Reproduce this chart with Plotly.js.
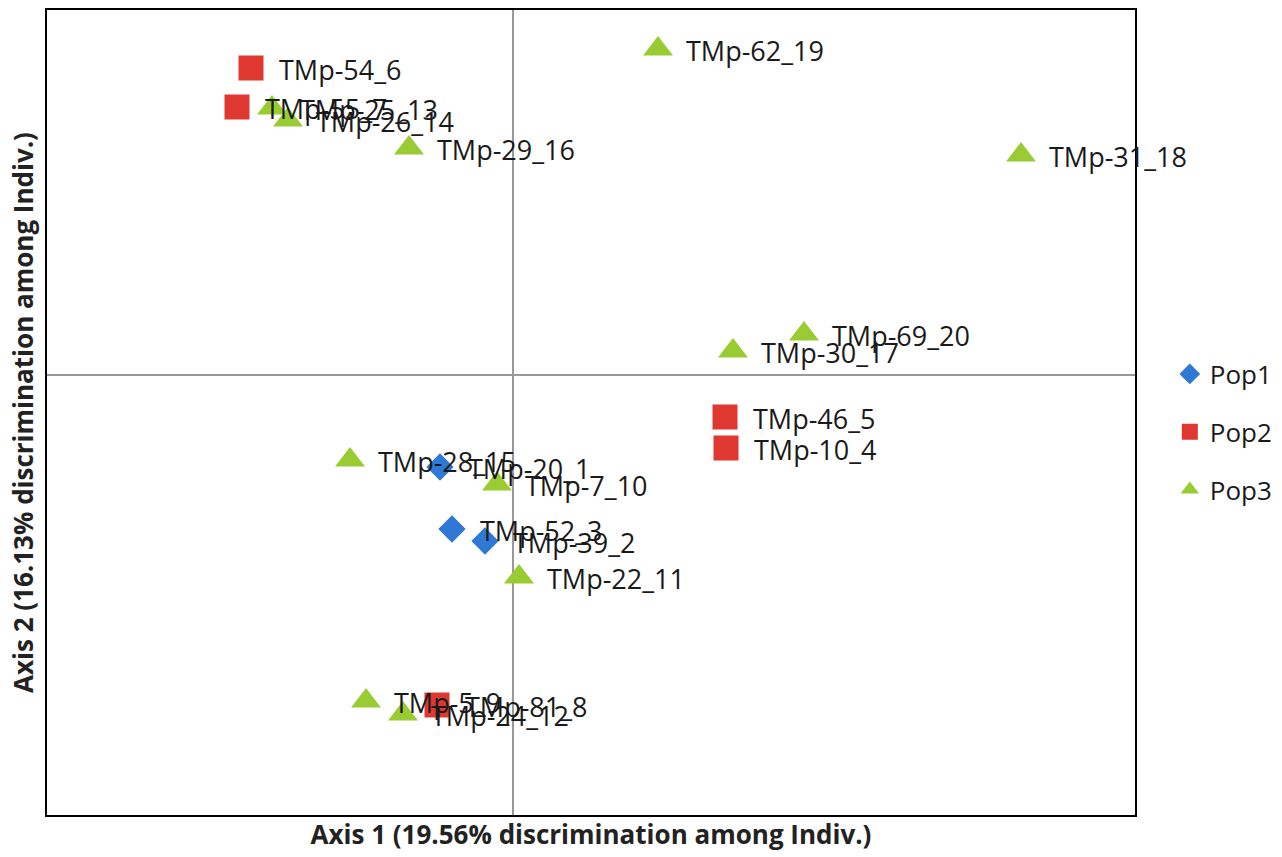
<!DOCTYPE html>
<html>
<head>
<meta charset="utf-8">
<script src="https://cdn.plot.ly/plotly-3.0.1.min.js"></script>
<style>body{margin:0;background:#fff}#chart{width:1282px;height:857px}</style>
</head>
<body>
<div id="chart"></div>
<script>
// Pop1
const pop1Labels = ["TMp-20_1", "TMp-39_2", "TMp-52_3"];
const pop1X = [-0.73, -0.28, -0.61];
const pop1Y = [-0.92, -1.66, -1.54];
// Pop2
const pop2Labels = ["TMp-10_4", "TMp-46_5", "TMp-54_6", "TMp-55_7", "TMp-81_8"];
const pop2X = [2.13, 2.12, -2.62, -2.76, -0.76];
const pop2Y = [-0.73, -0.42, 3.07, 2.68, -3.30];
// Pop3
const pop3Labels = ["TMp-5_9", "TMp-7_10", "TMp-22_11", "TMp-24_12", "TMp-25_13", "TMp-26_14", "TMp-28_15", "TMp-29_16", "TMp-30_17", "TMp-31_18", "TMp-62_19", "TMp-69_20"];
const pop3X = [-1.47, -0.16, 0.06, -1.10, -2.41, -2.25, -1.63, -1.04, 2.20, 5.08, 1.45, 2.91];
const pop3Y = [-3.26, -1.09, -2.02, -3.39, 2.67, 2.55, -0.85, 2.27, 0.24, 2.20, 3.26, 0.41];

const groups = [
  {name: "Pop1", x: pop1X, y: pop1Y, t: pop1Labels, sym: "diamond", size: 21, color: "#2f78d6"},
  {name: "Pop2", x: pop2X, y: pop2Y, t: pop2Labels, sym: "square", size: 25, color: "#de3831"},
  {name: "Pop3", x: pop3X, y: pop3Y, t: pop3Labels, sym: "triangle-up", size: 26, color: "#99cc33"}
];

const traces = groups.map((g, i) => ({
  type: "scatter", mode: "markers", name: g.name, x: g.x, y: g.y,
  legendgroup: "g" + i,
  marker: {symbol: g.sym, size: g.size, color: g.color, line: {width: 0}},
  hoverinfo: "text", text: g.t
}));

const annotations = [];
groups.forEach(g => {
  g.t.forEach((lab, k) => {
    annotations.push({
      x: g.x[k], y: g.y[k], xref: "x", yref: "y", text: lab, showarrow: false,
      xanchor: "left", yanchor: "middle", xshift: 26, yshift: -1,
      font: {family: "'Open Sans', sans-serif", size: 27, color: "#1a1a1a"}
    });
  });
});

const layout = {
  width: 1282, height: 857,
  margin: {l: 47, r: 147, t: 10, b: 42, autoexpand: false},
  paper_bgcolor: "#ffffff", plot_bgcolor: "#ffffff",
  showlegend: true,
  legend: {x: 1.032, y: 0.577, xanchor: "left", yanchor: "top", font: {family: "'Open Sans', sans-serif", size: 26, color: "#1a1a1a"}, tracegroupgap: 21, itemwidth: 30, bgcolor: "rgba(0,0,0,0)"},
  xaxis: {
    range: [-4.66, 6.22], showticklabels: false, ticks: "", showgrid: false,
    zeroline: true, zerolinecolor: "#999999", zerolinewidth: 1.2,
    showline: true, mirror: true, linecolor: "#000000", linewidth: 2,
    title: {text: "<b>Axis 1 (19.56% discrimination among Indiv.)</b>", font: {family: "'Open Sans', sans-serif", size: 26, color: "#222"}, standoff: 10}
  },
  yaxis: {
    range: [-4.40, 3.65], showticklabels: false, ticks: "", showgrid: false,
    zeroline: true, zerolinecolor: "#999999", zerolinewidth: 1.2,
    showline: true, mirror: true, linecolor: "#000000", linewidth: 2,
    title: {text: "<b>Axis 2 (16.13% discrimination among Indiv.)</b>", font: {family: "'Open Sans', sans-serif", size: 26, color: "#222"}, standoff: 4}
  },
  annotations: annotations
};

Plotly.newPlot("chart", traces, layout, {displayModeBar: false, staticPlot: true});
</script>
</body>
</html>
